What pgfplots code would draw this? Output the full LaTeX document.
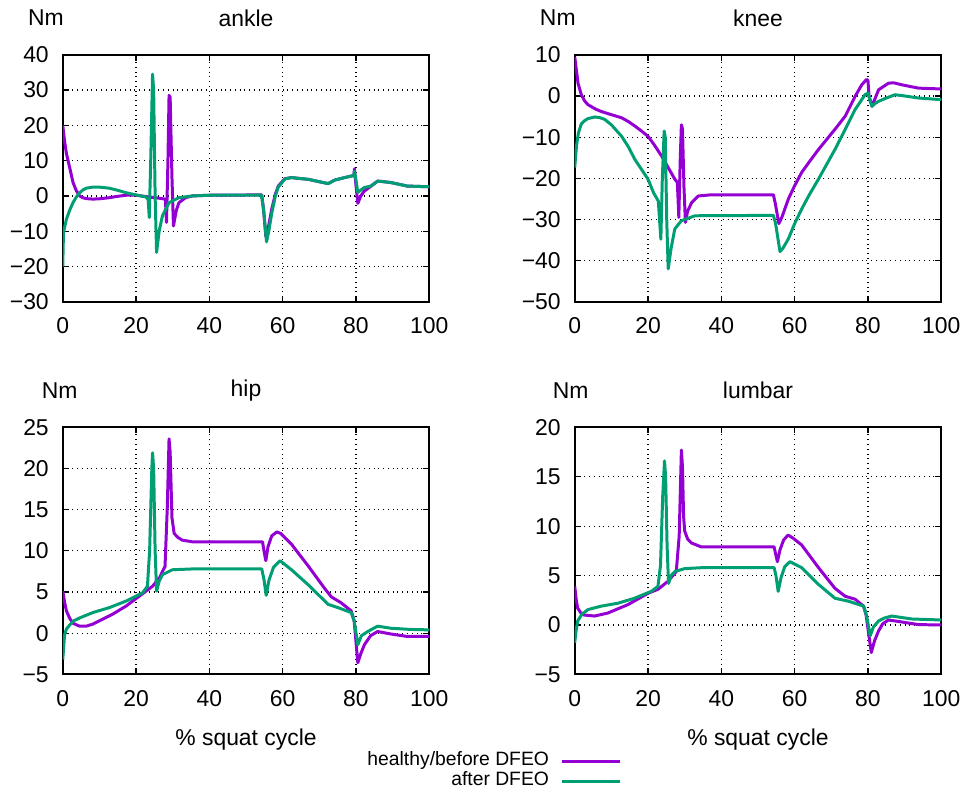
\documentclass[border=0pt]{standalone}
\usepackage{fontspec}
\setmainfont{Liberation Sans}
\usepackage{pgfplots}
\pgfplotsset{compat=1.18}
\definecolor{cpurple}{RGB}{148,0,211}
\definecolor{cgreen}{RGB}{0,158,115}
\pgfplotsset{panel/.style={
  width=184pt,height=124pt,scale only axis,anchor=south west,
  xmin=0,xmax=100,xtick={0,20,...,100},
  grid=major,grid style={black,dotted,line width=0.6pt},
  axis line style={black,line width=1pt},
  tick align=inside,tick style={black,line width=0.6pt},major tick length=3pt,
  xtick pos=both,ytick pos=both,
  /pgf/number format/assume math mode=true,
  clip mode=individual,
  every axis plot/.append style={line width=1.5pt,line join=round},
  ticklabel style={font=\fontsize{11.5}{13}\selectfont},
  yticklabel style={xshift=-3.5pt},
  xticklabel style={yshift=-4.5pt},
}}
\begin{document}
\begin{tikzpicture}[font=\fontsize{11.5}{13}\selectfont]
\path (0,0) rectangle (483.5pt,-397pt);
% ankle
\begin{axis}[panel,at={(31.5pt,-151.5pt)},ymin=-30,ymax=40,ytick={-30,-20,...,40},
  yticklabels={−30,−20,−10,0,10,20,30,40}]
\addplot[cpurple] coordinates {(0,20)(0.5,15.5)(1,12)(1.9,8)(2.8,3.8)(3.7,1.5)(4.6,0)(5.5,-0.5)(6.4,-0.75)(8.2,-0.9)(10,-0.8)(12.7,-0.5)(15,-0.1)(17.3,0.2)(20,0.2)(23.6,-0.3)(26,-0.6)(28,-0.9)(28.3,-7.5)(28.7,10)(29,28.5)(29.3,28)(29.8,5)(30.2,-8.5)(31,-4)(31.7,-1.9)(33.5,-0.5)(35.3,0)(40,0.2)(54.3,0.3)(54.8,-4)(55.4,-11.5)(55.9,-10)(57,-3.8)(58,0.5)(58.8,2.8)(60.6,4.9)(62.4,5.2)(67,4.7)(72.4,3.5)(74.2,4.5)(76.9,5.2)(79.4,5.8)(79.6,7.7)(79.8,5)(80.5,-2.1)(81.3,0)(82.3,1.4)(84.1,2.8)(85.9,4.2)(87,4.1)(89.5,3.8)(94,2.8)(100,2.6)};
\addplot[cgreen] coordinates {(0,-20)(0.2,-10.3)(1,-6.6)(1.9,-4)(2.8,-1.9)(3.7,-0.3)(4.6,0.9)(5.5,1.7)(6.4,2.2)(8.2,2.5)(10,2.5)(12.7,2.2)(15,1.6)(17.3,0.9)(20,0.3)(22.7,-0.3)(23.3,-1)(23.6,-6.1)(24,10)(24.5,34.5)(24.8,30)(25.2,0)(25.6,-16)(26.3,-10)(27.2,-5.6)(29,-1.9)(31.7,-0.5)(35.3,0)(40,0.2)(54.2,0.2)(54.8,-4)(55.6,-13)(56.2,-10)(57,-5)(58,0)(58.8,2.5)(60.6,4.8)(62.4,5.2)(67,4.7)(72.4,3.5)(74.2,4.5)(76.9,5.2)(79.4,5.8)(79.6,7)(80,4.5)(80.5,1)(81.5,1.8)(82.3,2.4)(84.1,2.8)(85.9,4.2)(87,4.1)(89.5,3.8)(94,2.8)(100,2.6)};
\node at (rel axis cs:0.5,1) [yshift=18.5pt] {ankle};
\node at (rel axis cs:0,1) [xshift=-8.5pt,yshift=18.5pt] {Nm};
\end{axis}
% knee
\begin{axis}[panel,at={(288.5pt,-151.5pt)},ymin=-50,ymax=10,ytick={-50,-40,...,10},
  yticklabels={−50,−40,−30,−20,−10,0,10}]
\addplot[cpurple] coordinates {(0,9.5)(0.5,6)(0.9,3.1)(1.8,0.3)(2.7,-1.2)(3.6,-2.1)(5.5,-3.1)(7,-3.7)(9.1,-4.3)(12.8,-5.3)(14.6,-6.2)(16.4,-7.3)(18.2,-8.5)(20,-9.8)(21.8,-12)(23.7,-14.6)(25.5,-17.4)(27.3,-20.2)(28,-21)(28.4,-29.5)(28.8,-15)(29.1,-7)(29.4,-8)(29.8,-22)(30.2,-30.7)(30.8,-28)(31.9,-25.9)(33.7,-24.3)(37.3,-24)(54.2,-24)(54.7,-26)(55.7,-31)(56.5,-29.5)(58.3,-25)(60,-21.8)(61.9,-18.6)(64,-16)(66.5,-13)(71,-8.1)(73.8,-4.9)(76.5,-0.1)(78.3,2.7)(79.6,4)(80,3.8)(80.3,0)(81.1,-2.5)(82,-0.5)(82.9,1.5)(85.6,3.1)(87,3.2)(89.3,2.7)(93.8,1.9)(100,1.7)};
\addplot[cgreen] coordinates {(0,-17.4)(0.5,-12)(1,-9)(1.8,-6.8)(2.7,-6)(3.6,-5.5)(5.5,-5.1)(7,-5.3)(8.2,-5.7)(10,-7)(12.8,-9.8)(14.6,-12.3)(16.4,-15.4)(18.2,-17.8)(20,-20.2)(21.5,-23.5)(22.8,-25.5)(23.5,-34.8)(23.9,-20)(24.4,-8.5)(24.7,-10)(25.1,-30)(25.5,-42)(26.3,-37)(27.3,-32.3)(29.1,-30.3)(32.8,-29.1)(54.2,-29)(54.8,-31)(56,-37.8)(56.8,-37)(58.3,-34.7)(60,-31)(61.9,-27.5)(64,-24)(66.5,-20.2)(71,-13)(73.8,-8.1)(76.5,-3.3)(79.2,0.3)(80.1,0.7)(80.5,-1)(81.1,-2.5)(82,-1.8)(82.9,-1.3)(85,-0.5)(87.4,0.3)(90,0)(93.8,-0.5)(100,-0.9)};
\node at (rel axis cs:0.5,1) [yshift=18.5pt] {knee};
\node at (rel axis cs:0,1) [xshift=-8.5pt,yshift=18.5pt] {Nm};
\end{axis}
% hip
\begin{axis}[panel,at={(31.5pt,-338.5pt)},ymin=-5,ymax=25,ytick={-5,0,...,25},
  yticklabels={−5,0,5,10,15,20,25},
  legend style={at={(axis description cs:1.526,-0.310)},anchor=north east,draw=none,fill=none,
    font=\fontsize{9.7}{11}\selectfont,legend cell align=right,legend plot pos=right,
    row sep=0pt,column sep=5.5pt,inner sep=0pt,
    nodes={inner sep=0.5pt,text height=6.8pt,text depth=2.2pt}},
  legend image code/.code={\draw[#1,line width=1.5pt] (0pt,0pt) -- (29pt,0pt);}]
\addplot[cpurple] coordinates {(0,5.1)(0.5,3.8)(1,2.7)(1.9,1.8)(2.8,1.2)(4.6,0.85)(6.4,0.85)(8.2,1.1)(10,1.5)(13.6,2.3)(17.3,3.3)(20.9,4.5)(24.5,5.7)(26.5,6.8)(27.2,7.5)(27.9,8.1)(28.5,15)(29,23.6)(29.3,22)(29.8,14)(30.4,12.1)(31.5,11.6)(32.6,11.3)(35.3,11.1)(54.5,11.1)(54.9,10)(55.4,8.8)(56,10.5)(57,11.8)(58.4,12.3)(59.5,12.1)(62.4,10.8)(66.9,8.2)(71.5,5.4)(73.3,4.4)(75.9,3.7)(78.7,2.7)(79.5,1.5)(80.5,-3.6)(81.3,-2.5)(82.3,-1.4)(84,-0.3)(85.9,0.2)(89.5,-0.1)(94,-0.4)(100,-0.4)};
\addlegendentry{healthy/before DFEO}
\addplot[cgreen] coordinates {(0,-3.2)(0.5,-0.2)(1,0.5)(1.9,1)(3,1.5)(4.6,1.85)(8.2,2.5)(12.7,3.1)(17.3,3.9)(20,4.5)(21.8,4.9)(23.1,5.7)(23.7,10)(24.3,20)(24.5,21.9)(24.8,20)(25.2,10)(25.6,5.1)(26.3,6.3)(27.2,7.1)(29.9,7.7)(35.3,7.8)(54.3,7.8)(54.9,6.5)(55.5,4.6)(56.3,6.5)(57.5,8)(59.3,8.8)(62.4,7.7)(66.9,5.9)(72.4,3.5)(75.1,3.1)(78.7,2.5)(79.5,1.5)(80.5,-1.4)(81.5,-0.3)(83.2,0.2)(85.9,0.85)(89.5,0.6)(95,0.45)(100,0.4)};
\addlegendentry{after DFEO}
\node at (rel axis cs:0.5,1) [yshift=18.5pt] {hip};
\node at (rel axis cs:0,1) [xshift=-1.5pt,yshift=18.5pt] {Nm};
\node at (rel axis cs:0.5,0) [yshift=-32.5pt] {\% squat cycle};
\end{axis}
% lumbar
\begin{axis}[panel,at={(288.5pt,-338.5pt)},ymin=-5,ymax=20,ytick={-5,0,...,20},
  yticklabels={−5,0,5,10,15,20}]
\addplot[cpurple] coordinates {(0,3.9)(0.4,2.6)(0.8,1.7)(1.7,1.2)(2.6,1.0)(5.4,0.9)(9,1.2)(14.5,2.05)(20,3.2)(22.7,3.6)(25.4,4.4)(27.7,5.4)(28.5,9)(29.1,17.7)(29.4,16)(29.7,11)(30,9.5)(30.8,8.7)(31.8,8.3)(34.5,7.9)(54.4,7.9)(54.8,7.2)(55.3,6.4)(56,7.6)(57,8.6)(58.2,9.1)(59.5,8.8)(61.9,8.1)(66.5,5.8)(71,3.7)(73.8,2.9)(76.5,2.6)(78.8,1.9)(79.5,1)(80.9,-2.8)(81.8,-1.6)(82.9,-0.6)(84,0.1)(85.6,0.5)(89.2,0.3)(93.8,0.03)(100,0)};
\addplot[cgreen] coordinates {(0,-1.8)(0.4,-0.5)(0.8,0.4)(2,1.1)(3.6,1.55)(7.2,1.9)(11.8,2.2)(16.3,2.7)(20.9,3.4)(22.7,3.9)(23.4,6)(24,13)(24.5,16.6)(24.8,15)(25.2,8)(25.6,4.2)(26.3,5)(27.3,5.4)(30,5.7)(35,5.8)(54.4,5.8)(54.9,5)(55.5,3.4)(56.3,4.8)(57.3,5.9)(58.7,6.4)(61.9,5.8)(66.5,4.1)(71,2.7)(74.7,2.4)(78.8,1.9)(79.6,1)(80.6,-1.1)(81.5,-0.2)(82.9,0.4)(84.5,0.7)(86.5,0.9)(92,0.6)(100,0.5)};
\node at (rel axis cs:0.5,1) [yshift=18.5pt] {lumbar};
\node at (rel axis cs:0,1) [xshift=-2pt,yshift=18.5pt] {Nm};
\node at (rel axis cs:0.5,0) [yshift=-32.5pt] {\% squat cycle};
\end{axis}
\end{tikzpicture}
\end{document}
